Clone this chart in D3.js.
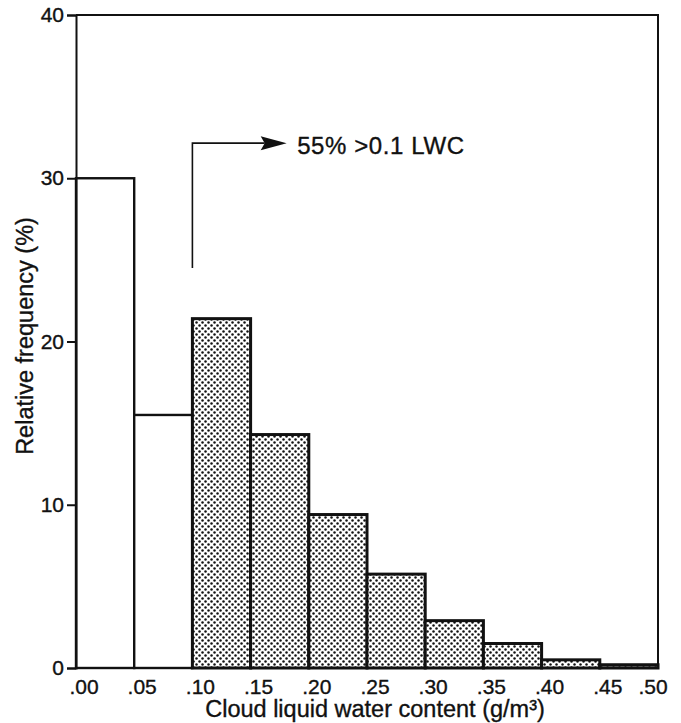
<!DOCTYPE html>
<html lang="en">
<head>
    <meta charset="UTF-8">
    <title>Cloud liquid water content histogram</title>
    <script src="https://d3js.org/d3.v7.min.js"></script>
    <style>
        body { margin: 0; background: #fff; }
        text { font-family: "Liberation Sans", Arial, Helvetica, sans-serif; fill: #111; stroke: #111; stroke-width: 0.35px; }
    </style>
</head>
<body>
<script>
// bin edges (g/m3) and relative frequency (%) per bin
var binStart = [0.00, 0.05, 0.10, 0.15, 0.20, 0.25, 0.30, 0.35, 0.40, 0.45];
var freq     = [30.0, 15.5, 21.4, 14.3, 9.4, 5.75, 2.9, 1.5, 0.5, 0.2];
var shaded   = [false, false, true, true, true, true, true, true, true, true];
var xTicks   = [0, 0.05, 0.10, 0.15, 0.20, 0.25, 0.30, 0.35, 0.40, 0.45, 0.50];
var xTickLabels = [".00", ".05", ".10", ".15", ".20", ".25", ".30", ".35", ".40", ".45", ".50"];
var yTicks   = [0, 10, 20, 30, 40];
var binWidth = 0.05;
var note = "55% >0.1 LWC";

var width = 681, height = 723;
var svg = d3.select("body").append("svg")
    .attr("width", width)
    .attr("height", height);

var x = d3.scaleLinear().domain([0, 0.5]).range([76, 658]);
var y = d3.scaleLinear().domain([0, 40]).range([668, 15]);

// stipple pattern for the shaded bars
var pat = svg.append("defs").append("pattern")
    .attr("id", "dots")
    .attr("patternUnits", "userSpaceOnUse")
    .attr("width", 6).attr("height", 6);
pat.append("rect").attr("width", 6).attr("height", 6).attr("fill", "#fff");
pat.append("circle").attr("cx", 1.5).attr("cy", 1.5).attr("r", 1.25).attr("fill", "#111");
pat.append("circle").attr("cx", 4.5).attr("cy", 4.5).attr("r", 1.25).attr("fill", "#111");

// frame (top + right)
svg.append("path")
    .attr("d", "M" + x(0) + "," + y(40) + "H" + x(0.5) + "V" + y(0))
    .attr("fill", "none").attr("stroke", "#111").attr("stroke-width", 2);

// bars
svg.selectAll("rect.bar")
    .data(freq)
    .enter()
    .append("rect")
    .attr("class", "bar")
    .attr("x", function(d, i) { return x(binStart[i]); })
    .attr("y", function(d) { return y(d); })
    .attr("width", function(d, i) { return x(binStart[i] + binWidth) - x(binStart[i]); })
    .attr("height", function(d) { return y(0) - y(d); })
    .attr("fill", function(d, i) { return shaded[i] ? "url(#dots)" : "#fff"; })
    .attr("stroke", "#111")
    .attr("stroke-width", function(d, i) { return shaded[i] ? 3 : 2.4; });

// left axis
var yAxis = d3.axisLeft(y).tickValues(yTicks).tickSize(9).tickPadding(3);
var gy = svg.append("g").attr("transform", "translate(" + x(0) + ",0)").call(yAxis);
gy.select(".domain").attr("stroke", "#111").attr("stroke-width", 2);
gy.selectAll(".tick line").attr("stroke", "#111").attr("stroke-width", 2);
gy.selectAll(".tick text").attr("font-size", 21).attr("font-family", null).attr("fill", "#111");

// bottom axis line
svg.append("line")
    .attr("x1", x(0)).attr("x2", x(0.5))
    .attr("y1", y(0)).attr("y2", y(0))
    .attr("stroke", "#111").attr("stroke-width", 2);

// x tick labels (no tick marks in the original)
svg.selectAll("text.xt")
    .data(xTicks)
    .enter()
    .append("text")
    .attr("class", "xt")
    .attr("x", function(d, i) { return x(d) + (i == xTicks.length - 1 ? -5 : 8); })
    .attr("y", 694)
    .attr("text-anchor", "middle")
    .attr("font-size", 21)
    .text(function(d, i) { return xTickLabels[i]; });

// axis titles
svg.append("text")
    .attr("x", 375).attr("y", 717)
    .attr("text-anchor", "middle")
    .attr("font-size", 23.5)
    .text("Cloud liquid water content (g/m³)");

svg.append("text")
    .attr("transform", "translate(33,336) rotate(-90)")
    .attr("text-anchor", "middle")
    .attr("font-size", 23.5)
    .text("Relative frequency (%)");

// annotation bracket + arrow
var arrowY = y(32.15);
svg.append("path")
    .attr("d", "M" + x(0.10) + "," + y(24.5) + "V" + arrowY + "H" + (x(0.181) - 22))
    .attr("fill", "none").attr("stroke", "#111").attr("stroke-width", 1.6);
svg.append("path")
    .attr("d", "M" + x(0.181) + "," + arrowY + "L" + (x(0.181) - 26) + "," + (arrowY - 7) +
               "L" + (x(0.181) - 22) + "," + arrowY + "L" + (x(0.181) - 26) + "," + (arrowY + 7) + "Z")
    .attr("fill", "#111");
svg.append("text")
    .attr("x", x(0.19)).attr("y", 154)
    .attr("font-size", 24)
    .attr("letter-spacing", 0.6)
    .text(note);
</script>
</body>
</html>
